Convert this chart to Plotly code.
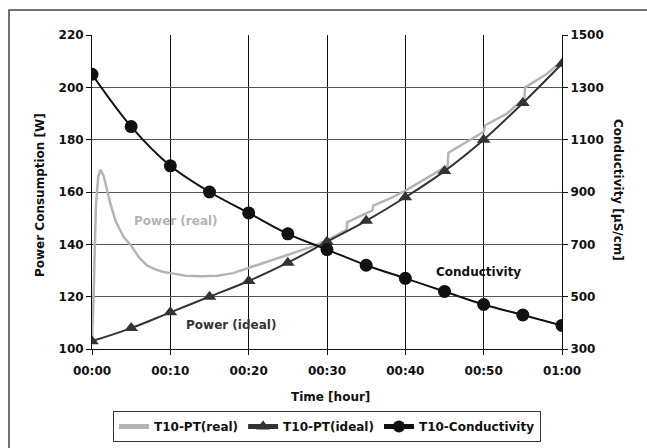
import plotly.graph_objects as go

# ---- data ----
ideal_t = [0, 5, 10, 15, 20, 25, 30, 35, 40, 45, 50, 55, 60]
ideal_w = [103, 108, 114, 120, 126, 133, 141, 149, 158, 168, 180, 194, 209]
cond_us = [1350, 1150, 1000, 900, 820, 740, 680, 620, 570, 520, 470, 430, 390]

real_t = [0, 0.2, 0.5, 0.8, 1.1, 1.5, 2.3, 3, 4, 5, 6, 7, 8, 9, 10, 12, 14, 16, 18,
          20, 22, 24, 26, 28, 30, 32.5, 32.6, 35.8, 35.9, 38, 40, 42, 45.4, 45.5,
          48, 50, 50.2, 53, 55.2, 55.3, 58, 60]
real_w = [103, 120, 155, 166, 168.5, 166, 156, 149, 143, 139.5, 135, 132, 130.5,
          129.5, 129, 128, 127.8, 128, 129, 131, 133, 135, 137, 139, 141.5, 145.5,
          148.5, 153, 154.8, 157.5, 160.5, 164, 170, 175, 179.5, 183, 185.5, 190,
          196, 200, 205, 210]

x_ticks = [0, 10, 20, 30, 40, 50, 60]
x_ticktext = ["00:00", "00:10", "00:20", "00:30", "00:40", "00:50", "01:00"]
left_ticks = [100, 120, 140, 160, 180, 200, 220]
right_ticks = [300, 500, 700, 900, 1100, 1300, 1500]

FONT = "DejaVu Sans, Arial, sans-serif"

fig = go.Figure()
fig.add_trace(go.Scatter(x=real_t, y=real_w, mode="lines", name="T10-PT(real)",
                         line=dict(color="#b4b4b4", width=2.5)))
fig.add_trace(go.Scatter(x=ideal_t, y=ideal_w, mode="lines+markers", name="T10-PT(ideal)",
                         line=dict(color="#333333", width=2, shape="spline"),
                         marker=dict(symbol="triangle-up", size=12, color="#333333")))
fig.add_trace(go.Scatter(x=ideal_t, y=cond_us, mode="lines+markers", name="T10-Conductivity",
                         yaxis="y2",
                         line=dict(color="#111111", width=2, shape="spline"),
                         marker=dict(symbol="circle", size=13, color="#111111")))

L, R, T, B = 92, 85, 35, 99
W, H = 647, 448
pw, ph = W - L - R, H - T - B

def px(x):
    return (x - L) / pw

def py(y):
    return (H - B - y) / ph

tickfont = dict(family=FONT, size=12, weight="bold", color="#111111")

fig.update_layout(
    width=W, height=H,
    margin=dict(l=L, r=R, t=T, b=B),
    paper_bgcolor="white", plot_bgcolor="white",
    font=dict(family=FONT, size=12, color="#111111"),
    showlegend=True,
    legend=dict(orientation="h", x=0.5, xanchor="center",
                yref="container", y=1 - 411 / H, yanchor="top",
                bordercolor="#333333", borderwidth=1, itemsizing="constant",
                font=dict(family=FONT, size=12, weight="bold", color="#111111"),
                itemwidth=30, tracegroupgap=0),
    xaxis=dict(range=[0, 60], tickvals=x_ticks, ticktext=x_ticktext,
               showgrid=True, gridcolor="#111111", gridwidth=1,
               showline=True, linecolor="#111111", linewidth=1,
               ticks="outside", ticklen=5, tickcolor="#111111",
               ticklabelstandoff=6,
               tickfont=tickfont, zeroline=False),
    yaxis=dict(range=[100, 220], tickvals=left_ticks,
               showgrid=True, gridcolor="#555555", gridwidth=1,
               showline=True, linecolor="#111111", linewidth=1,
               ticks="outside", ticklen=5, tickcolor="#111111",
               tickfont=tickfont, zeroline=False),
    yaxis2=dict(range=[300, 1500], tickvals=right_ticks, overlaying="y", side="right",
                showgrid=False, showline=True, linecolor="#111111", linewidth=1,
                ticks="outside", ticklen=5, tickcolor="#111111",
                tickfont=tickfont, zeroline=False),
)

# outer chart border (bottom/right edges fall outside the picture)
fig.add_shape(type="rect", xref="paper", yref="paper",
              x0=px(9), x1=px(652), y0=py(453), y1=py(10),
              line=dict(color="#444444", width=1.5), layer="below")

ann_font = dict(family=FONT, size=12, weight="bold", color="#111111")
fig.add_annotation(text="Time [hour]", xref="paper", yref="paper",
                   x=px(330), y=py(397), xanchor="center", yanchor="middle",
                   showarrow=False, font=ann_font)
fig.add_annotation(text="Power Consumption [W]", xref="paper", yref="paper",
                   x=px(40), y=py(195), xanchor="center", yanchor="middle",
                   showarrow=False, textangle=-90, font=ann_font)
fig.add_annotation(text="Conductivity [µS/cm]", xref="paper", yref="paper",
                   x=px(618), y=py(190), xanchor="center", yanchor="middle",
                   showarrow=False, textangle=90, font=ann_font)

fig.add_annotation(text="Power (real)", x=10.7, y=149, showarrow=False,
                   xanchor="center", yanchor="middle",
                   font=dict(family=FONT, size=12, weight="bold", color="#b4b4b4"))
fig.add_annotation(text="Power (ideal)", x=17.8, y=109.2, showarrow=False,
                   xanchor="center", yanchor="middle",
                   font=dict(family=FONT, size=12, weight="bold", color="#333333"))
fig.add_annotation(text="Conductivity", x=49.3, y=129.4, showarrow=False,
                   xanchor="center", yanchor="middle",
                   font=dict(family=FONT, size=12, weight="bold", color="#111111"))

fig.write_html("out.html")
